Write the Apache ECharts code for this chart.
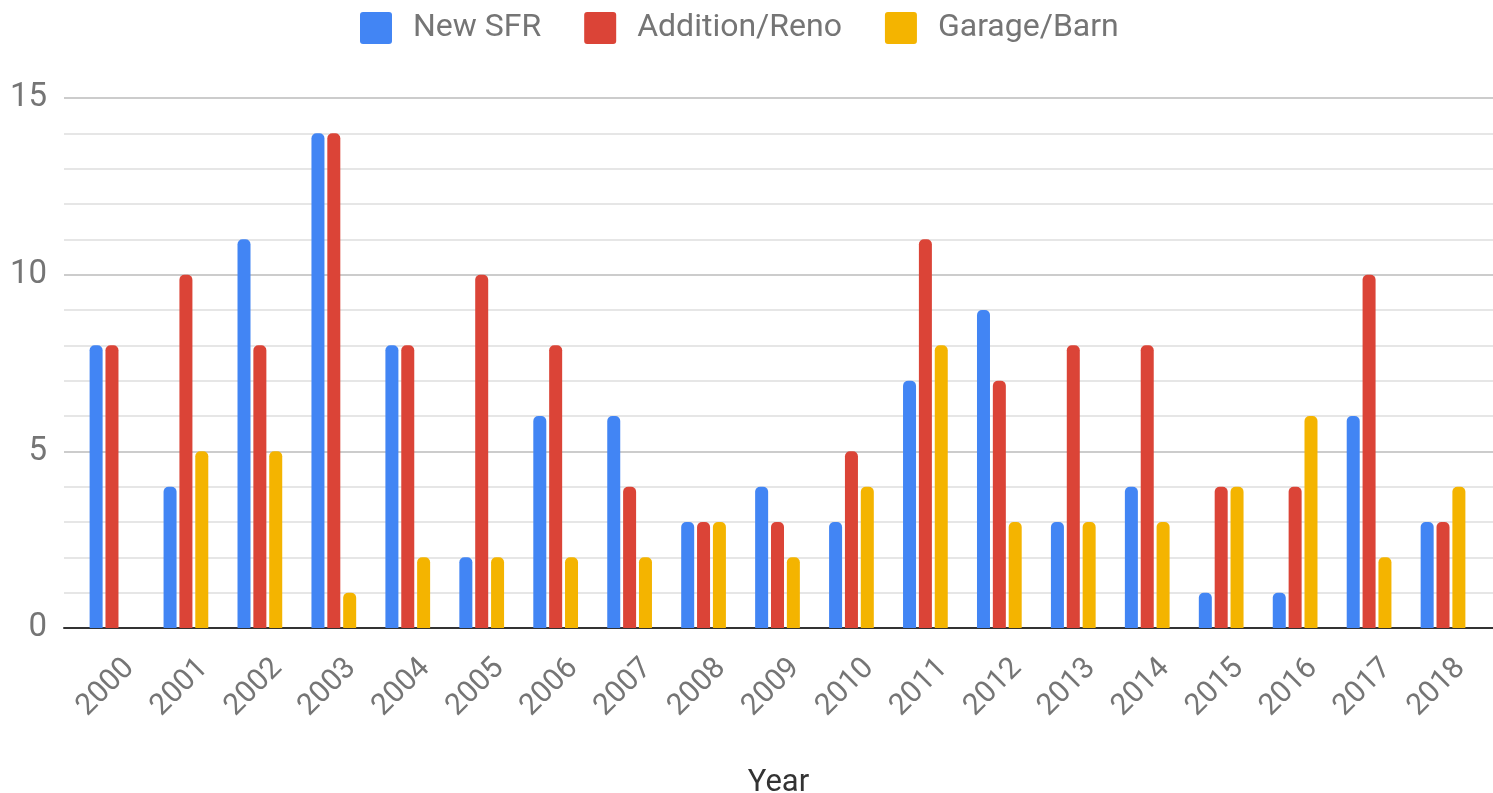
<!DOCTYPE html>
<html><head><meta charset="utf-8">
<script src="https://cdn.jsdelivr.net/npm/echarts@6/dist/echarts.min.js"></script>
<style>html,body{margin:0;padding:0;background:#fff}#c{width:1493px;height:793px}</style>
</head><body><div id="c"></div>
<script>
const years = ['2000','2001','2002','2003','2004','2005','2006','2007','2008','2009','2010','2011','2012','2013','2014','2015','2016','2017','2018'];
const newSFR = [8,4,11,14,8,2,6,6,3,4,3,7,9,3,4,1,1,6,3];
const additionReno = [8,10,8,14,8,10,8,4,3,3,5,11,7,8,8,4,4,10,3];
const garageBarn = [0,5,5,1,2,2,2,2,3,2,4,8,3,3,3,4,6,2,4];
const yTicks = [0,5,10,15];

const chart = echarts.init(document.getElementById('c'));
const F = 'Roboto, sans-serif';
const icon = 'path://M3,0 L29,0 Q32,0 32,3 L32,29 Q32,32 29,32 L3,32 Q0,32 0,29 L0,3 Q0,0 3,0 Z';
const yMin = yTicks[0], yMax = yTicks[yTicks.length-1];
function bar(name, data, color){
  return {name, type:'bar', data, barWidth:13, barGap:'22%', xAxisIndex:1, yAxisIndex:1,
    itemStyle:{color, borderRadius:[5,5,0,0]}};
}
chart.setOption({
  animation:false,
  textStyle:{fontFamily:F},
  legend:{top:7, left:355, itemWidth:32, itemHeight:32, itemGap:43,
    icon:icon,
    textStyle:{fontSize:32, color:'#757575', fontFamily:F, padding:[4,0,0,16]},
    data:['New SFR','Addition/Reno','Garage/Barn']},
  grid:[
    {left:64, right:0, top:98, bottom:165, outerBoundsMode:'none', containLabel:false},
    {left:75, right:13, top:98, bottom:165, outerBoundsMode:'none', containLabel:false}
  ],
  xAxis:[
    {type:'value', gridIndex:0, min:0, max:1,
      name:'Year', nameLocation:'middle', nameGap:140,
      nameTextStyle:{fontSize:31, color:'#333', fontFamily:F},
      axisLine:{show:true, onZero:false, lineStyle:{color:'#333', width:2}},
      axisTick:{show:false}, axisLabel:{show:false}, splitLine:{show:false}},
    {type:'category', gridIndex:1, data:years,
      axisLine:{show:false}, axisTick:{show:false},
      axisLabel:{rotate:45, interval:0, fontSize:30, color:'#757575', margin:18, fontFamily:F,
        verticalAlign:'top', lineHeight:50}}
  ],
  yAxis:[
    {type:'value', gridIndex:0, min:yMin, max:yMax, interval:5,
      axisLine:{show:false}, axisTick:{show:false},
      axisLabel:{fontSize:33, color:'#757575', margin:17, fontFamily:F},
      splitLine:{lineStyle:{color:'#cccccc', width:2}},
      minorTick:{show:false, splitNumber:5},
      minorSplitLine:{show:true, lineStyle:{color:'#e6e6e6', width:2}}},
    {type:'value', gridIndex:1, min:yMin, max:yMax, interval:5,
      axisLine:{show:false}, axisTick:{show:false}, axisLabel:{show:false}, splitLine:{show:false}}
  ],
  series:[
    bar('New SFR', newSFR, '#4285f4'),
    bar('Addition/Reno', additionReno, '#db4437'),
    bar('Garage/Barn', garageBarn, '#f4b400')
  ]
});
</script></body></html>
